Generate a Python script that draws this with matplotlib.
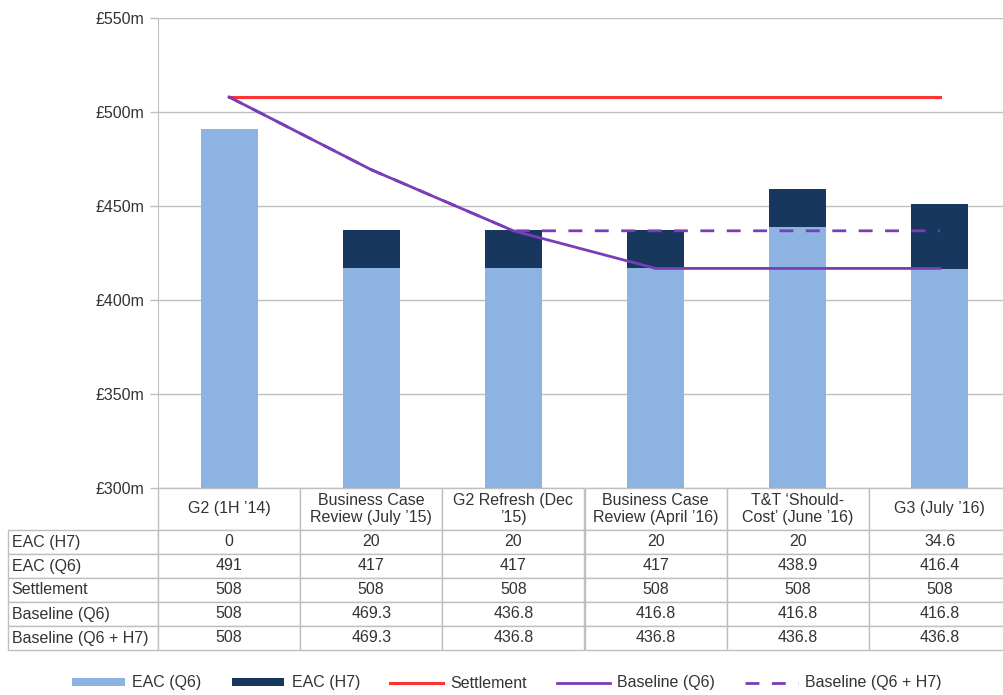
import matplotlib
matplotlib.use('Agg')
import matplotlib.pyplot as plt
from matplotlib.table import Table

plt.rcParams['font.family'] = ['Liberation Sans', 'DejaVu Sans']

# data (values in £m)
categories = ['G2 (1H ’14)', 'Business Case\nReview (July ’15)', 'G2 Refresh (Dec\n’15)',
              'Business Case\nReview (April ’16)', 'T&T ‘Should-\nCost’ (June ’16)', 'G3 (July ’16)']
eac_h7 = [0, 20, 20, 20, 20, 34.6]
eac_q6 = [491, 417, 417, 417, 438.9, 416.4]
settlement = [508, 508, 508, 508, 508, 508]
baseline_q6 = [508, 469.3, 436.8, 416.8, 416.8, 416.8]
baseline_q6_h7 = [508, 469.3, 436.8, 436.8, 436.8, 436.8]
row_labels = ['EAC (H7)', 'EAC (Q6)', 'Settlement', 'Baseline (Q6)', 'Baseline (Q6 + H7)']
y_ticks = [300, 350, 400, 450, 500, 550]

c_q6 = '#8db3e2'
c_h7 = '#17375e'
c_set = '#ff3333'
c_base = '#7b3cb8'
grey = '#bfbfbf'
txt = '#333333'
fs = 11.5

W, H = 1004, 695
fig = plt.figure(figsize=(W / 100, H / 100), dpi=100)
ax = fig.add_axes([158 / W, 1 - 488 / H, 853 / W, 470 / H])

x = list(range(len(categories)))
ax.bar(x, eac_q6, width=0.4, color=c_q6, label='EAC (Q6)', zorder=2)
ax.bar(x, eac_h7, width=0.4, bottom=eac_q6, color=c_h7, label='EAC (H7)', zorder=2)
ax.plot(x, settlement, color=c_set, lw=2.2, label='Settlement', zorder=3)
ax.plot(x, baseline_q6_h7, color=c_base, lw=2, dashes=(5, 4.5), label='Baseline (Q6 + H7)', zorder=3)
ax.plot(x, baseline_q6, color=c_base, lw=2, label='Baseline (Q6)', zorder=4)

ax.set_xlim(-0.5, len(categories) - 0.5)
ax.set_ylim(300, 550)
ax.set_yticks(y_ticks)
ax.set_yticklabels(['£%dm' % v for v in y_ticks])
ax.set_xticks([])
ax.grid(axis='y', color=grey, lw=1)
ax.set_axisbelow(True)
for s in ['top', 'right', 'bottom']:
    ax.spines[s].set_visible(False)
ax.spines['left'].set_color(grey)
ax.tick_params(axis='y', colors=grey, length=6, width=1, labelsize=fs, labelcolor=txt, pad=4)

# data table under the chart
lab_w = 150 / 853
col_w = (1 / 6)
head_h, row_h = 42, 24
tbl = Table(ax, bbox=[-lab_w, -162 / 470, 1 + lab_w, 162 / 470])
tbl.add_cell(0, 0, lab_w, head_h, text='', edgecolor=grey).visible_edges = 'open'
for j, cat in enumerate(categories):
    tbl.add_cell(0, j + 1, col_w, head_h, text=cat, loc='center', edgecolor=grey)
rows = [eac_h7, eac_q6, settlement, baseline_q6, baseline_q6_h7]
for i, (lab, vals) in enumerate(zip(row_labels, rows)):
    tbl.add_cell(i + 1, 0, lab_w, row_h, text=lab, loc='left', edgecolor=grey)
    for j, v in enumerate(vals):
        tbl.add_cell(i + 1, j + 1, col_w, row_h, text='%g' % v, loc='center', edgecolor=grey)
tbl.auto_set_font_size(False)
tbl.set_fontsize(fs)
for cell in tbl.get_celld().values():
    cell.get_text().set_color(txt)
    cell.PAD = 0.025
ax.add_table(tbl)

h, l = ax.get_legend_handles_labels()
order = ['EAC (Q6)', 'EAC (H7)', 'Settlement', 'Baseline (Q6)', 'Baseline (Q6 + H7)']
hs = [h[l.index(o)] for o in order]
leg = fig.legend(hs, order, ncol=5, loc='center', bbox_to_anchor=(0.505, 1 - 683 / H),
                 frameon=False, handlelength=3.3, handleheight=0.4, handletextpad=0.45,
                 columnspacing=1.9, fontsize=fs)
for t in leg.get_texts():
    t.set_color(txt)

fig.savefig('out.png', dpi=100)
